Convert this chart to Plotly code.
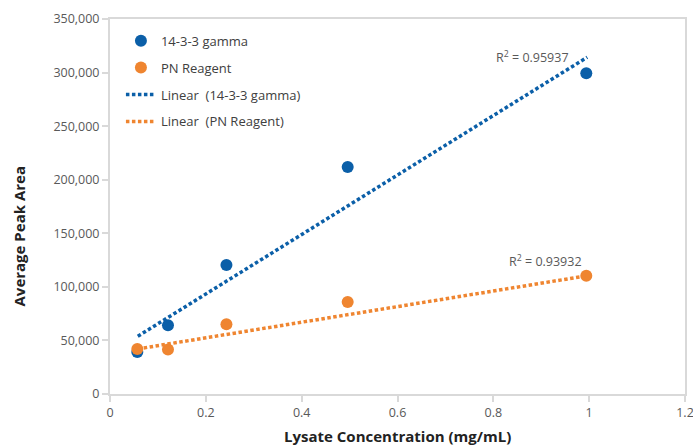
import plotly.graph_objects as go

# Data
conc = [0.057, 0.121, 0.243, 0.496, 0.994]
gamma_area = [39300, 64100, 120400, 211800, 299400]
pn_area = [42100, 41500, 65100, 85900, 110400]

# Linear trendline endpoints as drawn in the reference
trend_x = [0.058, 0.996]
gamma_trend = [53900, 314300]
pn_trend = [42100, 110400]

gamma_r2 = "0.95937"
pn_r2 = "0.93932"

x_ticks = [0, 0.2, 0.4, 0.6, 0.8, 1, 1.2]
x_tick_text = ["0", "0.2", "0.4", "0.6", "0.8", "1", "1.2"]
y_ticks = [0, 50000, 100000, 150000, 200000, 250000, 300000, 350000]
y_tick_text = ["0", "50,000", "100,000", "150,000", "200,000", "250,000", "300,000", "350,000"]

BLUE = "#0b5fa8"
ORANGE = "#ef8530"
FONT = "Open Sans"
TICK_COLOR = "#595959"

fig = go.Figure()
fig.add_trace(go.Scatter(x=conc, y=gamma_area, mode="markers", name="14-3-3 gamma",
                         marker=dict(color=BLUE, size=12), legendgroup="a"))
fig.add_trace(go.Scatter(x=conc, y=pn_area, mode="markers", name="PN Reagent",
                         marker=dict(color=ORANGE, size=12), legendgroup="b"))
fig.add_trace(go.Scatter(x=trend_x, y=gamma_trend, mode="lines", name="Linear  (14-3-3 gamma)",
                         line=dict(color=BLUE, width=3.5, dash="3.5px,2.5px"), legendgroup="c"))
fig.add_trace(go.Scatter(x=trend_x, y=pn_trend, mode="lines", name="Linear  (PN Reagent)",
                         line=dict(color=ORANGE, width=3.5, dash="3.5px,2.5px"), legendgroup="d"))

fig.add_annotation(x=0.882, y=gamma_trend[1], xref="x", yref="y",
                   text="R<sup>2</sup> = " + gamma_r2, showarrow=False,
                   font=dict(family=FONT, size=12.5, color=TICK_COLOR))
fig.add_annotation(x=0.909, y=124400, xref="x", yref="y",
                   text="R<sup>2</sup> = " + pn_r2, showarrow=False,
                   font=dict(family=FONT, size=12.5, color=TICK_COLOR))

# Axis titles
fig.add_annotation(x=0.5, y=-0.112, xref="paper", yref="paper", xanchor="center", yanchor="middle",
                   text="<b>Lysate Concentration (mg/mL)</b>", showarrow=False,
                   font=dict(family=FONT, size=15, color="#222222"))
fig.add_annotation(x=-0.16, y=0.42, xref="paper", yref="paper", xanchor="center", yanchor="middle",
                   text="<b>Average Peak Area</b>", showarrow=False, textangle=-90,
                   font=dict(family=FONT, size=15, color="#222222"))

axis_common = dict(showgrid=False, zeroline=False, showline=True, mirror=True,
                   linecolor="#d9d9d9", linewidth=2, ticks="outside", ticklen=6,
                   tickcolor="#d9d9d9", tickwidth=2, automargin=False,
                   ticklabeloverflow="allow",
                   tickfont=dict(family=FONT, size=12.5, color=TICK_COLOR))

fig.update_xaxes(range=[0, 1.2], tickvals=x_ticks, ticktext=x_tick_text, **axis_common)
fig.update_yaxes(range=[0, 350000], tickvals=y_ticks, ticktext=y_tick_text, **axis_common)

fig.update_layout(
    width=693, height=445,
    margin=dict(l=110, r=8, t=19, b=50.5),
    paper_bgcolor="white", plot_bgcolor="white",
    font=dict(family=FONT, color="#404040"),
    showlegend=True,
    legend=dict(x=0.019, y=0.982, xanchor="left", yanchor="top",
                bgcolor="rgba(0,0,0,0)", tracegroupgap=7,
                font=dict(family=FONT, size=13, color="#404040")),
)

fig.write_html("out.html", config={"displayModeBar": False},
               post_script="document.body.style.margin='0';document.body.style.overflow='hidden';")
